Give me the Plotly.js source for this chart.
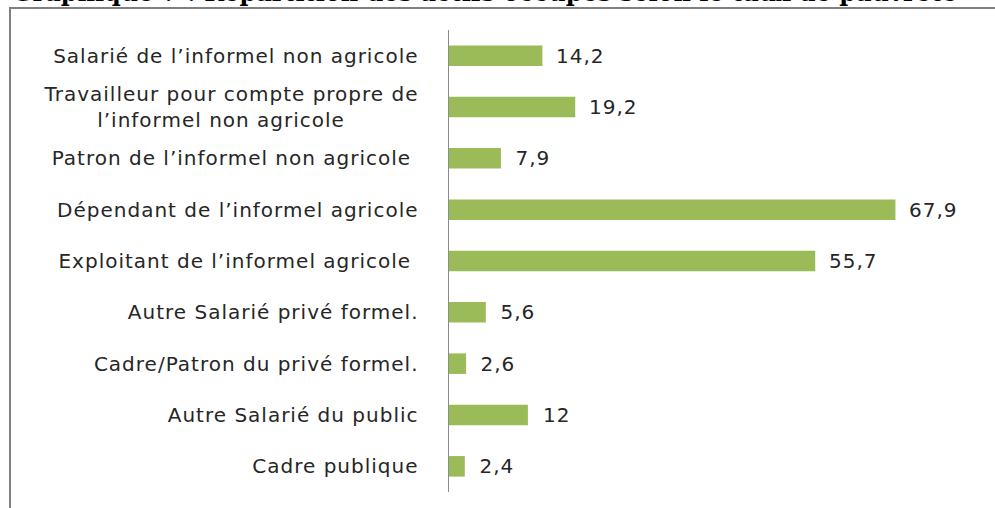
<!DOCTYPE html>
<html>
<head>
<meta charset="utf-8">
<script src="https://cdn.plot.ly/plotly-3.0.1.min.js"></script>
<style>
html,body{margin:0;padding:0;background:#fff;}
#chart{width:995px;height:508px;}
#chart .ytick text, #chart .annotation:not([data-index="9"]) .annotation-text{letter-spacing:1px;}
</style>
</head>
<body>
<div id="chart"></div>
<script>
const categories = [
  "Salarié de l’informel non agricole",
  "Travailleur pour compte propre de<br>l’informel non agricole\u00a0\u00a0\u00a0\u00a0\u00a0\u00a0\u00a0\u00a0\u00a0\u00a0",
  "Patron de l’informel non agricole\u00a0",
  "Dépendant de l’informel agricole",
  "Exploitant de l’informel agricole\u00a0",
  "Autre Salarié privé formel.",
  "Cadre/Patron du privé formel.",
  "Autre Salarié du public",
  "Cadre publique"
];
const values = [14.2, 19.2, 7.9, 67.9, 55.7, 5.6, 2.6, 12, 2.4];
const valueLabels = ["14,2", "19,2", "7,9", "67,9", "55,7", "5,6", "2,6", "12", "2,4"];
const titleText = "Graphique 7 : Répartition des actifs occupés selon le taux de pauvreté";

const W = 995, H = 508;
const M = {l: 449, r: 20, t: 30, b: 16};
const pw = W - M.l - M.r, ph = H - M.t - M.b;
const px2x = x => (x - M.l) / pw;
const py2y = y => (H - M.b - y) / ph;

const trace = {
  type: 'bar',
  orientation: 'h',
  x: values,
  y: categories,
  marker: {color: '#9BBB59', line: {width: 0}},
  hoverinfo: 'none'
};

const annotations = values.map((v, i) => ({
  x: v, y: categories[i], xref: 'x', yref: 'y',
  text: valueLabels[i], showarrow: false,
  xanchor: 'left', yanchor: 'middle', xshift: 14,
  font: {family: 'DejaVu Sans', size: 20, color: '#262626'}
}));
annotations.push({
  xref: 'paper', yref: 'paper', x: px2x(10), y: py2y(9),
  xanchor: 'left', yanchor: 'bottom', showarrow: false,
  text: '<b>' + titleText + '</b>',
  font: {family: 'DejaVu Serif', size: 24, color: '#000'}
});

const layout = {
  width: W, height: H,
  margin: M,
  paper_bgcolor: '#fff', plot_bgcolor: '#fff',
  showlegend: false,
  bargap: 0.6,
  xaxis: {range: [0, 80], visible: false, fixedrange: true},
  yaxis: {
    autorange: 'reversed', type: 'category',
    showline: true, linecolor: '#8c8c8c', linewidth: 1.5,
    ticks: '', showgrid: false, zeroline: false,
    ticklabelstandoff: 25,
    tickfont: {family: 'DejaVu Sans', size: 20, color: '#262626'}
  },
  annotations: annotations,
  shapes: [
    {type: 'line', xref: 'paper', yref: 'paper', x0: px2x(10), x1: px2x(10), y0: py2y(8), y1: py2y(510), line: {color: '#808080', width: 2}},
    {type: 'line', xref: 'paper', yref: 'paper', x0: px2x(9), x1: px2x(995), y0: py2y(8), y1: py2y(8), line: {color: '#808080', width: 2}}
  ]
};

Plotly.newPlot('chart', [trace], layout, {displayModeBar: false, staticPlot: true});
</script>
</body>
</html>
